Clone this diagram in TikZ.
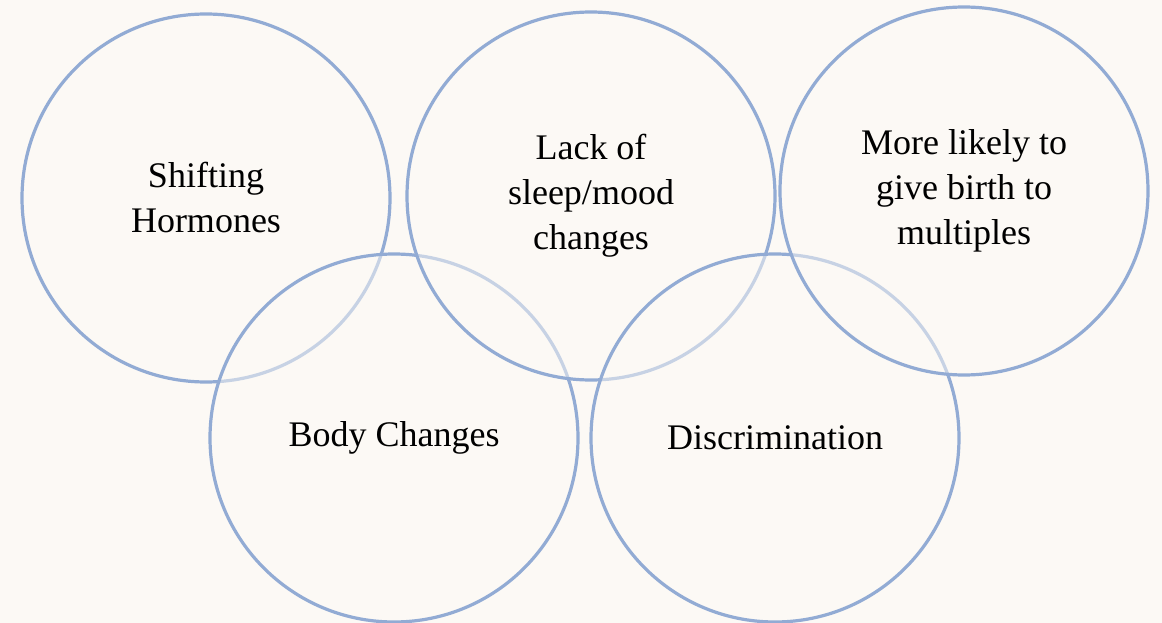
\documentclass[tikz,border=0pt]{standalone}
\usepackage{fontspec}
\setmainfont{Liberation Serif}
\definecolor{paper}{RGB}{252,249,245}
\definecolor{ringblue}{RGB}{146,171,212}
\begin{document}
\begin{tikzpicture}[x=1pt,y=-1pt,
  ring/.style={circle, draw=ringblue, line width=3.2pt, fill=paper,
    fill opacity=0.5, draw opacity=1, text opacity=1, text=black,
    minimum size=368pt, inner sep=0pt, align=center,
    font=\fontsize{36}{45}\selectfont}]
% page background
\fill[paper] (0,0) rectangle (1162,623);
\useasboundingbox (0,0) rectangle (1162,623);
% circles, drawn in zig-zag order so each one half-veils the one before
\node[ring] (hormones)  at (206,198) {Shifting\\Hormones};
\node[ring] (body)      at (394,438) {Body Changes};
\node[ring] (sleep)     at (591,196) {Lack of\\sleep/mood\\changes};
\node[ring] (discrim)   at (775,438) {Discrimination};
\node[ring] (multiples) at (964,191) {More likely to\\give birth to\\multiples};
\end{tikzpicture}
\end{document}
